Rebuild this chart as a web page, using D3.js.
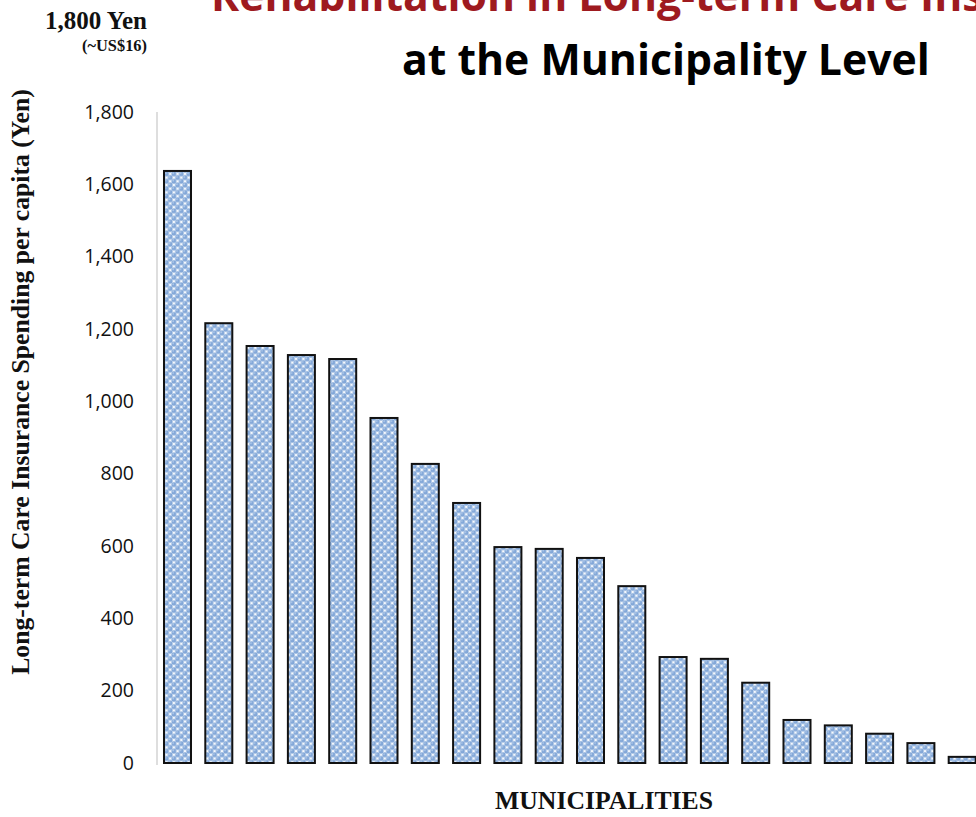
<!DOCTYPE html>
<html>
<head>
<meta charset="utf-8">
<script src="https://cdn.jsdelivr.net/npm/d3@7"></script>
<style>
  html, body { margin: 0; padding: 0; background: #ffffff; overflow: hidden; }
  svg { display: block; }
</style>
</head>
<body>
<svg id="chart" width="976" height="817"></svg>
<script>
// Per-capita rehabilitation spending in long-term care insurance, by municipality (Yen)
const municipalities = d3.range(1, 21).map(i => "M" + i);
const spending = [1637, 1216, 1153, 1128, 1117, 954, 827, 719, 597, 592,
                  567, 489, 293, 288, 222, 119, 104, 81, 55, 17];
const yTicks = [0, 200, 400, 600, 800, 1000, 1200, 1400, 1600, 1800];

const titleRed = "Rehabilitation in Long-term Care Insurance";
const titleBlack = "at the Municipality Level";
const yTitle = "Long-term Care Insurance Spending per capita (Yen)";
const xTitle = "MUNICIPALITIES";
const maxNote = "1,800 Yen";
const maxNoteUsd = "(~US$16)";

const svg = d3.select("#chart");
const sans = "'Open Sans', 'Noto Sans', sans-serif";
const serif = "'Liberation Serif', 'DejaVu Serif', serif";

// dotted fill for the bars
const defs = svg.append("defs");
const P = 7.4;
const pat = defs.append("pattern")
  .attr("id", "dots")
  .attr("patternUnits", "userSpaceOnUse")
  .attr("width", P).attr("height", P);
pat.append("rect").attr("width", P).attr("height", P).attr("fill", "#f7fafd");
[[0, 0], [P, 0], [0, P], [P, P], [P / 2, P / 2]].forEach(([cx, cy]) => {
  pat.append("circle").attr("cx", cx).attr("cy", cy).attr("r", 2.45).attr("fill", "#82a7d8");
  pat.append("circle").attr("cx", cx - 0.7).attr("cy", cy - 0.7).attr("r", 0.9).attr("fill", "#b0c9ea");
});

const x = d3.scaleBand()
  .domain(municipalities)
  .range([156.85, 982.85])
  .paddingInner(0.346)
  .paddingOuter(0.173);

const y = d3.scaleLinear().domain([0, 1800]).range([763, 112]);

// y axis: light vertical rule, labels only
const yAxis = d3.axisLeft(y)
  .tickValues(yTicks)
  .tickSize(0)
  .tickPadding(23)
  .tickFormat(d3.format(","));
const gy = svg.append("g").attr("transform", "translate(157,0)").call(yAxis);
gy.select(".domain").attr("stroke", "#c8c8c8").attr("stroke-width", 1.2)
  .attr("d", `M0,${y(1800)}V${y(0) + 2}`);
gy.selectAll(".tick text")
  .attr("font-family", sans).attr("font-size", 19.5).attr("fill", "#111");

// bars
svg.append("g").selectAll("rect")
  .data(spending)
  .join("rect")
  .attr("x", (d, i) => x(municipalities[i]))
  .attr("y", d => y(d))
  .attr("width", x.bandwidth())
  .attr("height", d => y(0) - y(d))
  .attr("fill", "url(#dots)")
  .attr("stroke", "#111")
  .attr("stroke-width", 2);

// fit a text element to a target width by scaling its font size
function fitSize(sel, base, width) {
  const w = sel.node().getComputedTextLength();
  sel.attr("font-size", base * width / w);
}

// titles
const t2 = svg.append("text")
  .attr("x", 402).attr("y", 75)
  .attr("font-family", sans).attr("font-weight", 700)
  .attr("font-size", 40).attr("fill", "#000")
  .text(titleBlack);
fitSize(t2, 40, 528);
svg.append("text")
  .attr("x", 211).attr("y", 11)
  .attr("font-family", sans).attr("font-weight", 700)
  .attr("font-size", t2.attr("font-size")).attr("fill", "#9e1a1f")
  .text(titleRed);

// max-value note in the corner
const n1 = svg.append("text")
  .attr("x", 147).attr("y", 29).attr("text-anchor", "end")
  .attr("font-family", serif).attr("font-weight", 700).attr("font-size", 22)
  .attr("fill", "#111").text(maxNote);
fitSize(n1, 22, 102);
const n2 = svg.append("text")
  .attr("x", 147).attr("y", 51).attr("text-anchor", "end")
  .attr("font-family", serif).attr("font-weight", 700).attr("font-size", 12)
  .attr("fill", "#111").text(maxNoteUsd);
fitSize(n2, 12, 65);

// axis titles
const yt = svg.append("text")
  .attr("transform", "translate(29,382) rotate(-90)")
  .attr("text-anchor", "middle")
  .attr("font-family", serif).attr("font-weight", 700).attr("font-size", 21)
  .attr("fill", "#111").text(yTitle);
fitSize(yt, 21, 586);

const xt = svg.append("text")
  .attr("x", 604).attr("y", 809).attr("text-anchor", "middle")
  .attr("font-family", serif).attr("font-weight", 700).attr("font-size", 21)
  .attr("fill", "#111").text(xTitle);
fitSize(xt, 21, 218);
</script>
</body>
</html>
